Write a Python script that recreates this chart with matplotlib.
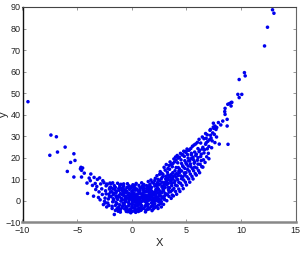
import matplotlib
matplotlib.use("Agg")
import matplotlib.pyplot as plt

plt.rcParams['font.family'] = ['Liberation Sans', 'DejaVu Sans']

# sparse points on the left tail
left_x = [-9.5, -7.4, -6.9, -7.5, -6.8, -6.1, -5.3, -5.6, -5.2, -5.9, -5.3,
          -4.65, -4.6, -4.7]
left_y = [46.0, 30.5, 29.7, 21.1, 22.6, 24.9, 21.8, 17.8, 18.7, 13.6, 11.0,
          15.5, 11.0, 14.8]

# sparse points on the right tail
right_x = [12.87, 13.0, 12.41, 12.14, 10.3, 10.37, 9.82, 9.7, 10.06, 9.82,
           9.08, 9.15, 8.93, 8.78, 9.08, 8.53, 8.5, 8.53, 8.72, 8.32, 7.46,
           7.92, 8.14, 7.61, 7.77, 8.72, 8.0, 8.8]
right_y = [88.7, 87.1, 80.6, 71.9, 59.5, 58.0, 56.3, 49.4, 49.4, 47.9,
           45.6, 45.7, 45.1, 44.8, 44.0, 42.9, 41.4, 40.1, 37.8, 37.0, 36.0,
           36.3, 35.2, 34.7, 34.0, 34.7, 26.3, 26.2]

# dense cloud, one row per narrow x column
core_x = [
    -4.5, -4.35, -4.6,
    -4.05, -3.9, -4.1,
    -3.75, -3.6, -3.8,
    -3.45, -3.3, -3.5, -3.35,
    -3.15, -3.0, -3.2, -3.05, -2.95,
    -2.85, -2.7, -2.9, -2.75, -2.65,
    -2.55, -2.4, -2.6, -2.45, -2.35, -2.5,
    -2.25, -2.1, -2.3, -2.15, -2.05, -2.2, -2.0,
    -1.95, -1.8, -1.9, -1.85, -1.75, -1.9, -1.7,
    -1.6, -1.55, -1.5, -1.65, -1.45, -1.6, -1.5, -1.4,
    -1.3, -1.25, -1.2, -1.35, -1.15, -1.3, -1.1, -1.2,
    -1.0, -0.95, -1.05, -0.9, -1.0, -0.85, -0.95, -0.8, -1.05,
    -0.7, -0.65, -0.75, -0.6, -0.7, -0.55, -0.65, -0.5, -0.6, -0.75,
    -0.4, -0.35, -0.45, -0.3, -0.4, -0.25, -0.35, -0.45, -0.2, -0.3, -0.4,
    -0.1, -0.05, -0.15, 0.0, -0.1, 0.05, -0.05, 0.1, -0.15, 0.0, 0.05, -0.1,
    0.2, 0.25, 0.15, 0.3, 0.2, 0.35, 0.25, 0.15, 0.4, 0.3, 0.2, 0.35,
    0.5, 0.55, 0.45, 0.6, 0.5, 0.65, 0.55, 0.45, 0.7, 0.6, 0.5, 0.65,
    0.8, 0.85, 0.75, 0.9, 0.8, 0.95, 0.85, 0.75, 1.0, 0.9, 0.8, 0.95,
    1.1, 1.15, 1.05, 1.2, 1.1, 1.25, 1.15, 1.05, 1.3, 1.2, 1.1, 1.25,
    1.4, 1.45, 1.35, 1.5, 1.4, 1.55, 1.45, 1.35, 1.6, 1.5, 1.4, 1.55,
    1.7, 1.75, 1.65, 1.8, 1.7, 1.85, 1.75, 1.65, 1.9, 1.8, 1.7, 1.85,
    2.0, 2.05, 1.95, 2.1, 2.0, 2.15, 2.05, 1.95, 2.2, 2.1, 2.0, 2.15,
    2.3, 2.35, 2.25, 2.4, 2.3, 2.45, 2.35, 2.25, 2.5, 2.4, 2.3, 2.45,
    2.6, 2.65, 2.55, 2.7, 2.6, 2.75, 2.65, 2.55, 2.8, 2.7, 2.6,
    2.9, 2.95, 2.85, 3.0, 2.9, 3.05, 2.95, 2.85, 3.1, 3.0, 2.9,
    3.2, 3.25, 3.15, 3.3, 3.2, 3.35, 3.25, 3.15, 3.4, 3.3,
    3.5, 3.55, 3.45, 3.6, 3.5, 3.65, 3.55, 3.45, 3.7, 3.6,
    3.8, 3.85, 3.75, 3.9, 3.8, 3.95, 3.85, 3.75, 4.0,
    4.1, 4.15, 4.05, 4.2, 4.1, 4.25, 4.15, 4.05, 4.3,
    4.4, 4.45, 4.35, 4.5, 4.4, 4.55, 4.45, 4.35,
    4.7, 4.75, 4.65, 4.8, 4.7, 4.85, 4.75, 4.65,
    5.0, 5.05, 4.95, 5.1, 5.0, 5.15, 5.05, 4.95,
    5.3, 5.35, 5.25, 5.4, 5.3, 5.45, 5.35,
    5.6, 5.65, 5.55, 5.7, 5.6, 5.75, 5.65,
    5.9, 5.95, 5.85, 6.0, 5.9, 6.05,
    6.2, 6.25, 6.15, 6.3, 6.2,
    6.5, 6.55, 6.45, 6.6, 6.5,
    6.8, 6.85, 6.75, 6.9, 6.8,
    7.1, 7.15, 7.05, 7.2,
    7.4, 7.35, 7.45,
    7.7, 7.75,
]
core_y = [
    15.2, 12.8, 14.1,
    3.4, 10.5, 8.2,
    12.4, 7.1, 9.3,
    10.8, 5.2, 2.1, 8.0,
    9.9, 4.1, 6.6, 1.5, 10.6,
    7.8, 2.9, 0.4, 5.5, 9.3,
    8.4, 4.6, -1.8, 1.2, 6.9, -0.3,
    7.6, 3.0, -2.9, 0.8, 5.4, -1.1, 8.2,
    6.3, -3.6, 1.9, 4.2, -0.5, 7.9, 2.8,
    -6.4, 5.1, -2.2, 0.3, 3.6, 7.0, -4.5, 1.5,
    8.1, -4.9, 2.3, -1.4, 4.8, 0.6, 6.4, -3.0,
    -0.2, 5.7, -4.2, 2.9, 7.6, -2.6, 1.1, 4.0, -5.3,
    3.4, -3.8, 6.8, 0.5, -1.7, 2.0, 5.0, -4.6, -0.6, 7.8,
    1.3, -5.1, 4.4, -2.3, 6.2, 0.1, 2.7, -3.5, 5.3, -0.9, 7.9,
    -5.6, 3.0, 0.8, -2.8, 5.8, -1.0, 2.0, 7.4, -4.1, 4.3, 0.0, 1.5,
    -4.8, 2.4, 6.5, -1.9, 0.4, 4.9, -3.2, 1.7, 8.0, -0.6, 3.6, -5.4,
    1.0, -3.9, 5.4, -0.4, 2.9, 7.1, -2.1, 0.2, 4.1, -5.0, 1.9, -1.2,
    3.3, -4.4, 0.6, 6.0, -1.6, 2.2, -2.9, 4.7, 0.0, 8.3, -0.8, 1.4,
    -3.6, 2.6, 5.1, -0.3, 7.5, -5.2, 1.2, 3.8, -1.8, 0.5, 6.1, 2.0,
    0.9, -4.0, 4.2, 8.9, -2.4, 2.7, 6.3, -0.7, 3.5, -3.3, 1.8, 5.0,
    2.3, -2.8, 7.0, 0.3, 4.6, -4.6, 9.6, 1.2, 3.1, -1.1, 5.8, 2.0,
    3.9, -3.4, 1.0, 6.8, -0.6, 10.4, 2.6, -2.0, 5.2, 0.2, 8.1, 3.3,
    1.6, 6.0, -2.7, 3.7, 11.6, -0.4, 8.4, 4.8, 2.5, -3.6, 7.1, 0.8,
    4.4, -1.3, 9.3, 2.0, 13.5, 6.5, 0.4, 3.0, 11.0, -2.9, 7.8,
    5.6, 1.0, 12.2, 8.3, -1.7, 3.4, 15.5, 6.9, 10.1, 2.2, 4.5,
    7.4, 2.8, 16.8, 10.6, 0.0, 5.1, 13.2, 8.9, 4.0, 12.0,
    9.5, 4.2, 14.6, 1.1, 18.0, 7.0, 11.8, 6.0, 15.8, 9.0,
    11.3, 5.7, 17.2, 8.4, 2.2, 13.9, 19.4, 10.0, 7.2,
    12.6, 6.9, 18.9, 9.8, 3.0, 15.4, 21.0, 10.9, 13.7,
    14.2, 8.1, 20.2, 11.5, 4.3, 17.3, 22.0, 12.9,
    15.7, 9.6, 21.4, 12.9, 5.6, 18.6, 23.0, 11.0,
    17.0, 11.1, 22.4, 14.5, 7.3, 19.8, 24.0, 13.0,
    18.6, 12.4, 23.5, 15.8, 8.6, 21.3, 17.1,
    20.2, 13.9, 25.3, 17.4, 10.1, 22.6, 19.0,
    21.6, 15.2, 26.4, 18.8, 11.9, 24.2,
    23.4, 16.9, 28.5, 20.5, 13.0,
    24.8, 19.0, 29.6, 22.2, 15.6,
    26.9, 20.4, 31.2, 24.1, 29.0,
    28.3, 32.7, 25.2, 30.4,
    31.5, 27.8, 34.2,
    33.1, 29.6,
]

# more points of the dense cloud, read between the columns above
fill_x = [
    -2.35, -2.3, -2.4,
    -2.05, -2.0, -2.1, -1.95,
    -1.75, -1.7, -1.8, -1.65, -1.75,
    -1.45, -1.4, -1.5, -1.35, -1.45,
    -1.15, -1.1, -1.2, -1.05, -1.15, -1.1,
    -0.85, -0.8, -0.9, -0.75, -0.85, -0.8,
    -0.55, -0.5, -0.6, -0.45, -0.55, -0.5, -0.6,
    -0.25, -0.2, -0.3, -0.15, -0.25, -0.2, -0.3,
    0.05, 0.1, 0.0, 0.15, 0.05, 0.1, 0.0, 0.15,
    0.35, 0.4, 0.3, 0.45, 0.35, 0.4, 0.3, 0.45,
    0.65, 0.7, 0.6, 0.75, 0.65, 0.7, 0.6, 0.75,
    0.95, 1.0, 0.9, 1.05, 0.95, 1.0, 0.9, 1.05,
    1.25, 1.3, 1.2, 1.35, 1.25, 1.3, 1.2, 1.35,
    1.55, 1.6, 1.5, 1.65, 1.55, 1.6, 1.5, 1.65,
    1.85, 1.9, 1.8, 1.95, 1.85, 1.9, 1.8, 1.95,
    2.15, 2.2, 2.1, 2.25, 2.15, 2.2, 2.1, 2.25,
    2.45, 2.5, 2.4, 2.55, 2.45, 2.5, 2.4, 2.55,
    2.75, 2.8, 2.7, 2.85, 2.75, 2.8, 2.7,
    3.05, 3.1, 3.0, 3.15, 3.05, 3.1, 3.0,
    3.35, 3.4, 3.3, 3.45, 3.35, 3.4, 3.3,
    3.65, 3.7, 3.6, 3.75, 3.65, 3.7, 3.6,
    3.95, 4.0, 3.9, 4.05, 3.95, 4.0,
    4.25, 4.3, 4.2, 4.35, 4.25, 4.3,
    4.55, 4.6, 4.5, 4.65, 4.55, 4.6,
    4.85, 4.9, 4.8, 4.95, 4.85, 4.9,
    5.15, 5.2, 5.1, 5.25, 5.15, 5.2,
    5.45, 5.5, 5.4, 5.55, 5.45,
    5.75, 5.8, 5.7, 5.85, 5.75,
    6.05, 6.1, 6.0, 6.15, 6.05,
    6.35, 6.4, 6.3, 6.45, 6.35,
    6.65, 6.7, 6.6, 6.75,
    6.95, 7.0, 6.9, 7.05,
    7.25, 7.3, 7.2,
    7.55, 7.6, 7.5,
]
fill_y = [
    3.2, 7.7, -1.0,
    2.0, 6.1, -2.2, 4.0,
    5.6, 0.9, -2.6, 3.5, 8.3,
    -0.8, 4.4, 6.2, -3.7, 2.2,
    1.8, -1.9, 5.6, 3.3, -4.1, 7.2,
    0.4, 6.0, -3.3, 2.4, 4.6, -1.2,
    -2.8, 3.9, 1.4, 6.1, -0.2, -5.0, 4.9,
    3.5, -1.6, 1.0, -3.9, 6.9, 2.2, -4.6,
    1.1, -3.4, 6.6, 3.6, -1.9, 2.8, -5.0, 5.2,
    0.9, -2.5, 5.7, 3.0, -4.2, 2.0, 7.2, -0.8,
    3.5, -1.6, 0.8, 6.0, -3.3, 1.6, 4.6, -4.6,
    -0.2, 3.0, -3.8, 5.3, 1.9, 7.0, -2.3, 0.9,
    4.3, 0.0, -2.6, 7.0, 2.6, -4.4, 1.0, 5.6,
    0.2, 4.0, -1.6, 7.6, 2.3, -3.8, 5.6, 1.2,
    3.6, -2.4, 6.2, 1.0, 8.6, -0.4, 4.6, -3.9,
    1.4, 4.4, -1.4, 7.6, -3.0, 2.8, 9.4, 0.0,
    5.3, 0.2, 9.9, 3.3, -2.0, 7.4, 1.5, 12.3,
    3.7, 8.6, -0.5, 5.5, 12.7, 1.4, 10.2,
    6.1, 11.3, 0.5, 9.0, 14.2, 3.0, 7.6,
    8.1, 2.0, 14.9, 11.0, 6.2, 16.3, 9.7,
    10.5, 4.9, 16.9, 13.0, 8.0, 2.6, 12.2,
    12.0, 4.3, 18.0, 15.4, 9.2, 20.3,
    11.7, 5.4, 17.6, 14.8, 19.8, 8.5,
    13.8, 7.1, 19.0, 16.2, 10.2, 21.3,
    15.0, 8.6, 20.6, 17.6, 11.9, 22.8,
    16.1, 10.1, 21.4, 13.7, 23.4, 18.5,
    19.6, 11.3, 24.3, 14.9, 22.0,
    18.0, 12.6, 25.9, 21.0, 15.6,
    20.0, 14.0, 27.1, 22.8, 17.0,
    21.6, 15.8, 26.8, 24.0, 18.6,
    23.7, 17.8, 28.8, 26.2,
    27.6, 22.0, 30.6, 19.5,
    29.1, 24.6, 33.1,
    30.8, 27.0, 33.6,
]

xs = left_x + core_x + fill_x + right_x
ys = left_y + core_y + fill_y + right_y

fig = plt.figure(figsize=(3.0, 2.59), dpi=100)
ax = fig.add_axes([0.075, 0.142, 0.911, 0.831])

ax.scatter(xs, ys, s=6.5, color='#0000ee', edgecolors='none')

ax.set_xlim(-10, 15)
ax.set_ylim(-10, 90)
ax.set_xticks([-10, -5, 0, 5, 10, 15])
ax.set_yticks(range(-10, 91, 10))
ax.tick_params(direction='in', length=2.5, width=0.6, labelsize=6.5,
               colors='#888888', labelcolor='#222222', pad=1.5,
               top=True, right=True)
ax.tick_params(axis='x', pad=3)

ax.spines['left'].set_color('#111111')
ax.spines['left'].set_linewidth(1.0)
ax.spines['top'].set_color('#444444')
ax.spines['top'].set_linewidth(0.8)
ax.spines['right'].set_color('#666666')
ax.spines['right'].set_linewidth(0.8)
ax.spines['bottom'].set_color('#888888')
ax.spines['bottom'].set_linewidth(1.8)

ax.set_xlabel('X', fontsize=8, color='#222222', labelpad=2)
ax.set_ylabel('y', fontsize=8, color='#222222')
ax.yaxis.set_label_coords(-0.05, 0.5)

fig.savefig('out.png', dpi=100)
